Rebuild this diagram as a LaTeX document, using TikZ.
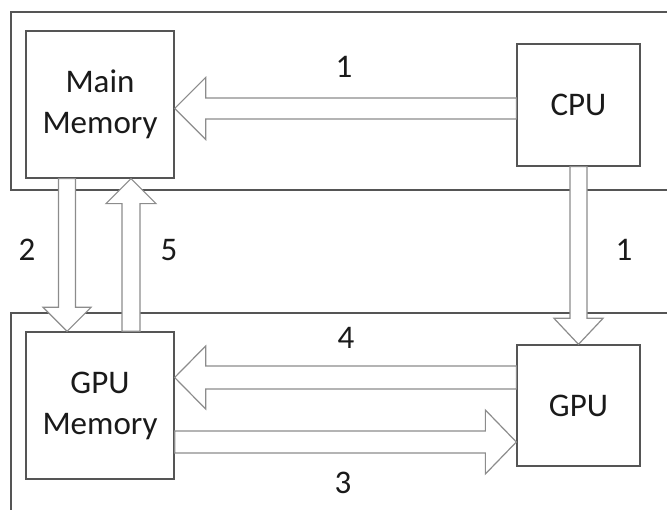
\documentclass[tikz,border=0pt]{standalone}
\usepackage{fontspec}
\setmainfont{Carlito}
\usetikzlibrary{calc}
\definecolor{framegray}{HTML}{555555}
\definecolor{arrowgray}{HTML}{8C8C8C}
\definecolor{inkcol}{HTML}{1A1A1A}

% Block arrow from #1 to #2: shaft half width #3, head half width #4, head length #5
\newcommand\blkarrow[5]{%
  \coordinate (ba-h) at ($(#2)!#5!(#1)$);
  \draw[blockarrow]
    ($(#1)!#3!90:(#2)$) --
    ($(ba-h)!#3!-90:(#1)$) --
    ($(ba-h)!#4!-90:(#1)$) --
    (#2) --
    ($(ba-h)!#4!90:(#1)$) --
    ($(ba-h)!#3!90:(#1)$) --
    ($(#1)!#3!-90:(#2)$) -- cycle;
}

\begin{document}
\begin{tikzpicture}[x=1pt,y=-1pt,
  frame/.style={draw=framegray,line width=1.3pt},
  unit/.style={draw=framegray,line width=1.3pt,fill=white,align=center,
    font=\fontsize{33}{41}\selectfont,text=inkcol,inner sep=0pt},
  blockarrow/.style={draw=arrowgray,line width=1.2pt,fill=white,line join=miter},
  numlabel/.style={font=\fontsize{33}{41}\selectfont,text=inkcol,inner sep=0pt}]
\useasboundingbox (0,0) rectangle (667,510);
\clip (0,0) rectangle (667,510);

% host and device regions
\draw[frame] (11,12) rectangle (690,190);
\draw[frame] (11,313) rectangle (690,540);

% units
\node[unit,minimum width=148pt,minimum height=147pt] (main) at (100,104.5) {Main\\Memory};
\node[unit,minimum width=123pt,minimum height=122pt] (cpu) at (578.5,105) {CPU};
\node[unit,minimum width=148pt,minimum height=147pt] (gmem) at (100,405.5) {GPU\\Memory};
\node[unit,minimum width=123pt,minimum height=121pt] (gpu) at (578.5,405.5) {GPU};

% transfers
\coordinate (a1s) at ($(cpu.west)+(0,3.5)$);
\coordinate (a1e) at (main.east |- a1s);
\blkarrow{a1s}{a1e}{10.5pt}{31pt}{31pt}

\coordinate (a1vs) at (cpu.south);
\coordinate (a1ve) at (gpu.north);
\blkarrow{a1vs}{a1ve}{8.5pt}{24.5pt}{26pt}

\coordinate (a2s) at ($(main.south)+(-33,0)$);
\coordinate (a2e) at (a2s |- gmem.north);
\blkarrow{a2s}{a2e}{8.5pt}{24pt}{24pt}

\coordinate (a5s) at ($(gmem.north)+(31,0)$);
\coordinate (a5e) at (a5s |- main.south);
\blkarrow{a5s}{a5e}{9pt}{25pt}{25pt}

\coordinate (a4s) at ($(gpu.west)+(0,-28)$);
\coordinate (a4e) at (gmem.east |- a4s);
\blkarrow{a4s}{a4e}{11.5pt}{31.5pt}{31pt}

\coordinate (a3s) at ($(gmem.east)+(0,36.5)$);
\coordinate (a3e) at (gpu.west |- a3s);
\blkarrow{a3s}{a3e}{11pt}{32pt}{31pt}

% step numbers
\node[numlabel] (n1a) at (344,67) {1};
\node[numlabel] (n1b) at (624,250) {1};
\node[numlabel] (n2) at (27,250) {2};
\node[numlabel] (n5) at (169,250) {5};
\node[numlabel] (n4) at (346,338) {4};
\node[numlabel] (n3) at (343,483) {3};
\end{tikzpicture}
\end{document}
